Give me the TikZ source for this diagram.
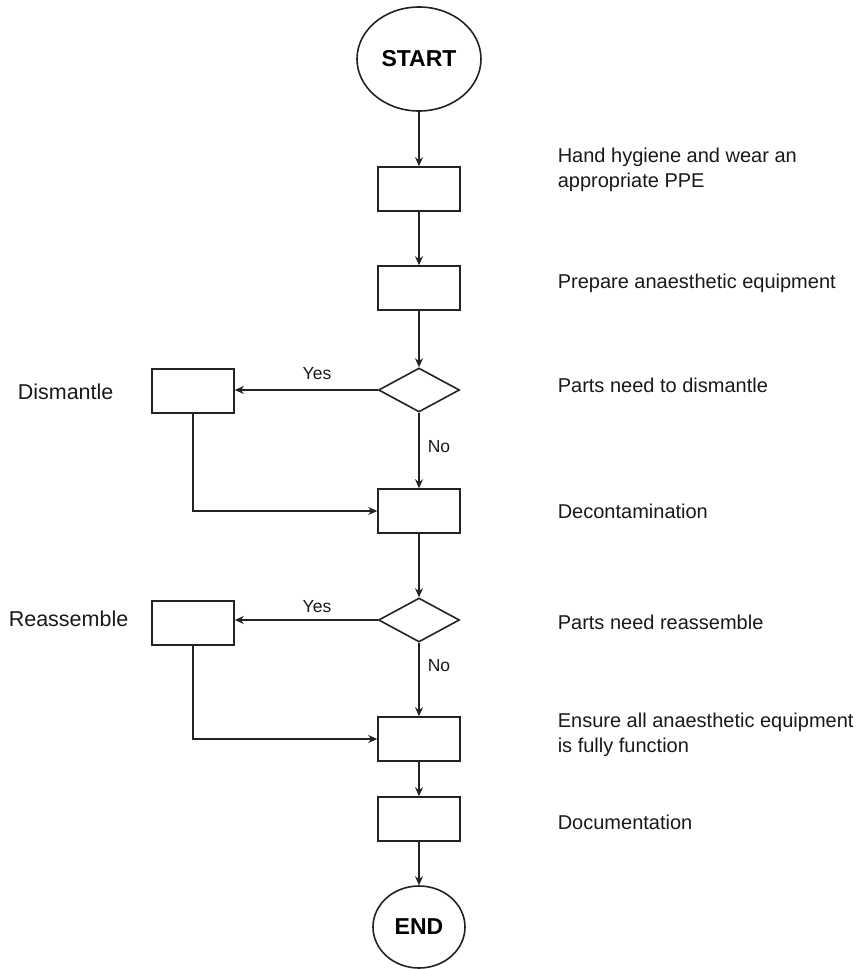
\documentclass[tikz,border=0pt]{standalone}
\usepackage{fontspec}
\setmainfont{Liberation Sans}
\usetikzlibrary{shapes.geometric,arrows.meta}
\begin{document}
\begin{tikzpicture}[x=1pt,y=-1pt,
  line width=1.6pt, draw={rgb,255:red,35;green,35;blue,35},
  box/.style={draw, rectangle, minimum width=82pt, minimum height=44pt, inner sep=0pt},
  term/.style={draw, ellipse, inner sep=0pt, font=\fontsize{23}{26}\selectfont\bfseries},
  dia/.style={draw, diamond, minimum width=81pt, minimum height=44pt, inner sep=0pt},
  arr/.style={-{Stealth[length=9pt,width=8pt]}},
  lbl/.style={anchor=west, align=left, inner sep=0pt, text={rgb,255:red,25;green,25;blue,25}, font=\fontsize{20}{25}\selectfont},
  side/.style={anchor=west, inner sep=0pt, text={rgb,255:red,25;green,25;blue,25}, font=\fontsize{21.5}{25}\selectfont},
  yn/.style={inner sep=0pt, text={rgb,255:red,25;green,25;blue,25}, font=\fontsize{17.5}{20}\selectfont}]
\useasboundingbox (0,0) rectangle (862,969);
% main column
\node[term, minimum width=124pt, minimum height=104pt] (start) at (419,59) {START};
\node[box] (b1) at (419,189) {};
\node[box] (b2) at (419,288) {};
\node[dia] (d1) at (419,390) {};
\node[box] (decon) at (419,511) {};
\node[dia] (d2) at (419,620) {};
\node[box] (ens) at (419,739) {};
\node[box] (doc) at (419,819) {};
\node[term, minimum width=92pt, minimum height=82pt] (end) at (419,927) {END};
% side boxes
\node[box] (dis) at (193,391) {};
\node[box] (rea) at (193,623) {};
% side labels
\node[side] (ldis) at (17,392) {Dismantle};
\node[side] (lrea) at (8,619) {Reassemble};
% yes / no
\node[yn] (y1) at (317,374) {Yes};
\node[yn] (n1) at (439,447) {No};
\node[yn] (y2) at (317,607) {Yes};
\node[yn] (n2) at (439,666) {No};
% right labels
\node[lbl] (t1) at (557,170) {Hand hygiene and wear an\\appropriate PPE};
\node[lbl] (t2) at (557,283) {Prepare anaesthetic equipment};
\node[lbl] (t3) at (557,385) {Parts need to dismantle};
\node[lbl] (t4) at (557,511) {Decontamination};
\node[lbl] (t5) at (557,622) {Parts need reassemble};
\node[lbl] (t6) at (557,735) {Ensure all anaesthetic equipment\\is fully function};
\node[lbl] (t7) at (557,822) {Documentation};
% connectors
\draw[arr] (start) -- (b1);
\draw[arr] (b1) -- (b2);
\draw[arr] (b2) -- (d1);
\draw[arr] (d1.west) -- (d1.west -| dis.east);
\draw[arr] (d1.south) -- (decon.north);
\draw[arr] (dis.south) |- (decon.west);
\draw[arr] (decon) -- (d2);
\draw[arr] (d2.west) -- (d2.west -| rea.east);
\draw[arr] (d2.south) -- (ens.north);
\draw[arr] (rea.south) |- (ens.west);
\draw[arr] (ens) -- (doc);
\draw[arr] (doc) -- (end);
\end{tikzpicture}
\end{document}
